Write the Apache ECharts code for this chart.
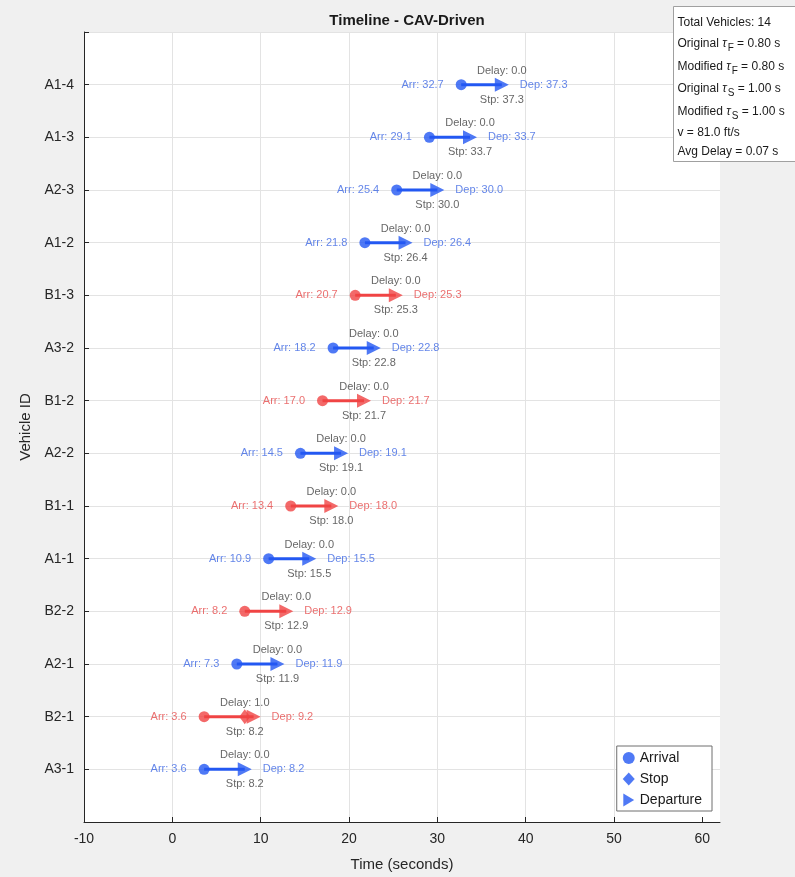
<!DOCTYPE html>
<html lang="en">
  <head>
    <meta charset="UTF-8" />
    <title>Timeline - CAV-Driven</title>
    <script src="https://cdn.jsdelivr.net/npm/echarts@6/dist/echarts.min.js"></script>
    <style>
      html, body { margin: 0; padding: 0; background: #f0f0f0; }
      #main { width: 795px; height: 877px; }
    </style>
  </head>
  <body>
    <div id="main"></div>
    <script>
      // rows from top to bottom
      const vehicles = ["A1-4", "A1-3", "A2-3", "A1-2", "B1-3", "A3-2", "B1-2", "A2-2", "B1-1", "A1-1", "B2-2", "A2-1", "B2-1", "A3-1"];
      const arrivals = [32.7, 29.1, 25.4, 21.8, 20.7, 18.2, 17.0, 14.5, 13.4, 10.9, 8.2, 7.3, 3.6, 3.6];
      const stops = [37.3, 33.7, 30.0, 26.4, 25.3, 22.8, 21.7, 19.1, 18.0, 15.5, 12.9, 11.9, 8.2, 8.2];
      const departures = [37.3, 33.7, 30.0, 26.4, 25.3, 22.8, 21.7, 19.1, 18.0, 15.5, 12.9, 11.9, 9.2, 8.2];
      const delays = [0.0, 0.0, 0.0, 0.0, 0.0, 0.0, 0.0, 0.0, 0.0, 0.0, 0.0, 0.0, 1.0, 0.0];
      const xTicks = [-10, 0, 10, 20, 30, 40, 50, 60];
      const infoLines = [
        "Total Vehicles: 14",
        "Original {t|τ}{s|F} = 0.80 s",
        "Modified {t|τ}{s|F} = 0.80 s",
        "Original {t|τ}{s|S} = 1.00 s",
        "Modified {t|τ}{s|S} = 1.00 s",
        "v = 81.0 ft/s",
        "Avg Delay = 0.07 s",
      ];

      const BLUE = "#2358f2";
      const RED = "#f04444";
      const BLUE_TXT = "#3d68e4";
      const RED_TXT = "#e64c4c";
      const FONT = "Liberation Sans, Arial, Helvetica, sans-serif";

      const isRed = (i) => vehicles[i].charAt(0) === "B";
      const markColor = (i) => (isRed(i) ? RED : BLUE);
      const textColor = (i) => (isRed(i) ? RED_TXT : BLUE_TXT);

      const point = (x, i) => ({
        value: [x, i + 1],
        itemStyle: { color: markColor(i) },
        label: { color: textColor(i) },
      });

      // the stop diamond sits under the departure arrow when there is no wait
      const stopPoints = [];
      vehicles.forEach((v, i) => {
        if (stops[i] !== departures[i]) stopPoints.push(point(stops[i], i));
      });

      const chart = echarts.init(document.getElementById("main"));

      const option = {
        backgroundColor: "#f0f0f0",
        animation: false,
        textStyle: { fontFamily: FONT },
        title: {
          text: "Timeline - CAV-Driven",
          left: 402,
          top: 8,
          textAlign: "center",
          textStyle: { fontSize: 15, fontWeight: "bold", color: "#1a1a1a", fontFamily: FONT },
        },
        grid: {
          left: 84,
          right: 75,
          top: 32,
          bottom: 52,
          show: true,
          backgroundColor: "#ffffff",
          borderWidth: 0,
        },
        legend: {
          data: [
            { name: "Arrival", icon: "circle" },
            { name: "Stop", icon: "diamond" },
            { name: "Departure", icon: "path://M0,0 L10,6 L0,12 Z" },
          ],
          orient: "vertical",
          right: 83,
          bottom: 66,
          itemWidth: 12,
          itemHeight: 13,
          itemGap: 7,
          padding: [5, 10, 4, 6],
          backgroundColor: "#ffffff",
          borderColor: "#6e6e6e",
          borderWidth: 1,
          borderRadius: 0,
          textStyle: { fontSize: 14, color: "#1a1a1a", fontFamily: FONT },
        },
        xAxis: {
          type: "value",
          min: -10,
          max: 62,
          interval: 10,
          name: "Time (seconds)",
          nameLocation: "middle",
          nameGap: 35,
          nameTextStyle: { fontSize: 15, color: "#262626", fontFamily: FONT },
          axisLine: { onZero: false, lineStyle: { color: "#262626", width: 1 } },
          axisTick: { inside: true, length: 5, customValues: xTicks, lineStyle: { color: "#262626" } },
          axisLabel: {
            fontSize: 14,
            color: "#262626",
            margin: 10,
            customValues: xTicks,
            formatter: (v) => (xTicks.includes(v) ? String(v) : ""),
          },
          splitLine: { show: true, showMaxLine: false, lineStyle: { color: "#e3e3e3" } },
        },
        yAxis: {
          type: "value",
          min: 0,
          max: 15,
          interval: 1,
          inverse: true,
          name: "Vehicle ID",
          nameLocation: "middle",
          nameGap: 50,
          nameTextStyle: { fontSize: 15, color: "#262626", fontFamily: FONT },
          axisLine: { onZero: false, lineStyle: { color: "#262626", width: 1 } },
          axisTick: { inside: true, length: 5, lineStyle: { color: "#262626" } },
          axisLabel: {
            fontSize: 14,
            color: "#262626",
            margin: 10,
            formatter: (v) => vehicles[v - 1] || "",
          },
          splitLine: { show: true, lineStyle: { color: "#e3e3e3" } },
        },
        series: [
          {
            name: "span",
            type: "custom",
            encode: { x: [0, 1], y: 2 },
            data: vehicles.map((v, i) => [arrivals[i], departures[i], i + 1]),
            renderItem: (params, api) => {
              const y = api.value(2);
              const p1 = api.coord([api.value(0), y]);
              const p2 = api.coord([api.value(1), y]);
              return {
                type: "line",
                shape: { x1: p1[0], y1: p1[1], x2: p2[0], y2: p2[1] },
                style: { stroke: markColor(params.dataIndex), lineWidth: 3 },
              };
            },
            z: 2,
          },
          {
            name: "Arrival",
            type: "scatter",
            symbol: "circle",
            symbolSize: 11,
            itemStyle: { color: BLUE },
            label: {
              show: true,
              position: "left",
              distance: 12,
              fontSize: 11,
              fontFamily: FONT,
              formatter: (p) => "Arr: " + p.value[0].toFixed(1),
            },
            data: vehicles.map((v, i) => point(arrivals[i], i)),
            z: 3,
          },
          {
            name: "Stop",
            type: "scatter",
            symbol: "diamond",
            symbolSize: [11, 15],
            itemStyle: { color: BLUE },
            data: stopPoints,
            z: 3,
          },
          {
            name: "Departure",
            type: "scatter",
            symbol: "triangle",
            symbolRotate: -90,
            symbolSize: 14,
            itemStyle: { color: BLUE },
            label: {
              show: true,
              position: "right",
              distance: 11,
              fontSize: 11,
              fontFamily: FONT,
              formatter: (p) => "Dep: " + p.value[0].toFixed(1),
            },
            data: vehicles.map((v, i) => point(departures[i], i)),
            z: 4,
          },
          {
            name: "delayLabel",
            type: "scatter",
            symbolSize: 1,
            itemStyle: { color: "rgba(0,0,0,0)" },
            label: {
              show: true,
              position: "top",
              distance: 8,
              fontSize: 11,
              fontFamily: FONT,
              color: "#404040",
              formatter: (p) => "Delay: " + delays[p.dataIndex].toFixed(1),
            },
            data: vehicles.map((v, i) => [stops[i], i + 1]),
            silent: true,
            z: 5,
          },
          {
            name: "stpLabel",
            type: "scatter",
            symbolSize: 1,
            itemStyle: { color: "rgba(0,0,0,0)" },
            label: {
              show: true,
              position: "bottom",
              distance: 9,
              fontSize: 11,
              fontFamily: FONT,
              color: "#404040",
              formatter: (p) => "Stp: " + p.value[0].toFixed(1),
            },
            data: vehicles.map((v, i) => [stops[i], i + 1]),
            silent: true,
            z: 5,
          },
        ],
        graphic: [
          {
            type: "group",
            left: 673,
            top: 6,
            z: 100,
            children: [
              {
                type: "rect",
                z: 100,
                shape: { x: 0, y: 0, width: 140, height: 155 },
                style: { fill: "#ffffff", stroke: "#a0a0a0", lineWidth: 1 },
              },
              ...infoLines.map((t, k) => ({
                type: "text",
                z: 101,
                x: 4,
                y: [16, 37, 60, 82, 105, 126, 145][k],
                style: {
                  text: t,
                  fill: "#1a1a1a",
                  font: "12px " + FONT,
                  verticalAlign: "middle",
                  rich: {
                    t: { fontSize: 12, fontStyle: "italic", fill: "#1a1a1a", fontFamily: FONT },
                    s: { fontSize: 10, fill: "#1a1a1a", fontFamily: FONT, padding: [9, 0, 0, 1] },
                  },
                },
              })),
            ],
          },
        ],
      };

      chart.setOption(option);
    </script>
  </body>
</html>
